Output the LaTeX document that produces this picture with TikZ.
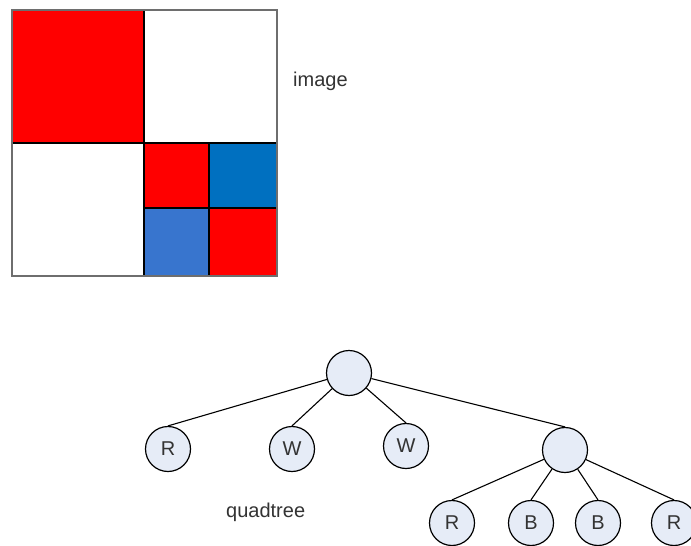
\documentclass[tikz,border=0pt]{standalone}
\usepackage{fontspec}
\setmainfont{Liberation Sans}
\definecolor{cellred}{RGB}{255,0,0}
\definecolor{celldblue}{RGB}{0,112,192}
\definecolor{celllblue}{RGB}{56,117,206}
\definecolor{nodefill}{RGB}{230,236,247}
\definecolor{labeltext}{RGB}{51,51,51}
\definecolor{framegray}{RGB}{110,110,110}
\tikzset{
  treenode/.style={circle, draw=black, line width=1.2pt, fill=nodefill,
    minimum size=45pt, inner sep=0pt, font=\fontsize{20}{20}\selectfont, text=labeltext},
  treeedge/.style={draw=black, line width=1.1pt},
  caption/.style={font=\fontsize{20}{20}\selectfont, text=labeltext, anchor=base west, inner sep=0pt},
  gridline/.style={draw=black, line width=1.2pt}
}
\begin{document}
\begin{tikzpicture}[x=1pt,y=-1pt]
\useasboundingbox (0,0) rectangle (691,546);
\fill[white] (0,0) rectangle (691,546);

% image cells
\fill[cellred]   (12,10)   rectangle (144,143);
\fill[cellred]   (144,143) rectangle (209,208);
\fill[celldblue] (209,143) rectangle (277,208);
\fill[celllblue] (144,208) rectangle (209,276);
\fill[cellred]   (209,208) rectangle (277,276);

% subdivision lines
\draw[gridline] (144,10) -- (144,276);
\draw[gridline] (12,143) -- (277,143);
\draw[gridline] (209,143) -- (209,276);
\draw[gridline] (144,208) -- (277,208);
\draw[draw=framegray, line width=2pt] (12,10) rectangle (277,276);

\node[caption] (imglabel) at (293,86) {image};

% quadtree
\node[treenode] (root) at (349,373) {};
\node[treenode] (c1) at (168,449) {R};
\node[treenode] (c2) at (292,449) {W};
\node[treenode] (c3) at (406,446) {W};
\node[treenode] (c4) at (565,450) {};
\node[treenode] (l1) at (452,523) {R};
\node[treenode] (l2) at (531,523) {B};
\node[treenode] (l3) at (598,523) {B};
\node[treenode] (l4) at (674,523) {R};

\foreach \c in {c1,c2,c3,c4} \draw[treeedge] (root) -- (\c.north);
\foreach \c in {l1,l2,l3,l4} \draw[treeedge] (c4) -- (\c.north);

\node[caption] (treelabel) at (226,517) {quadtree};
\end{tikzpicture}
\end{document}
